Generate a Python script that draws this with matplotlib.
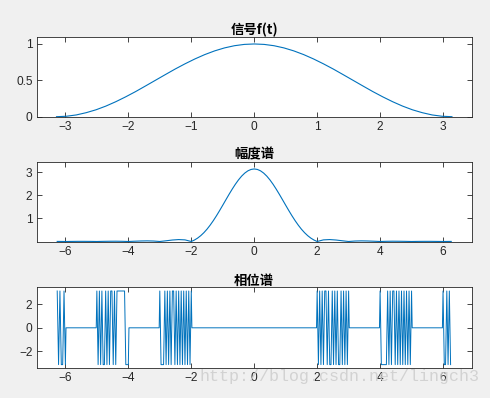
import numpy as np
import matplotlib.pyplot as plt

# DATOS -------------------------------------------------------------------

# signal f(t), read at 41 points over [-pi, pi]
t = np.linspace(-3.1416, 3.1416, 41)
f_t = [0.000, 0.006, 0.024, 0.055, 0.095, 0.146, 0.206, 0.273, 0.345, 0.422,
       0.500, 0.578, 0.655, 0.727, 0.794, 0.854, 0.905, 0.946, 0.976, 0.994,
       1.000,
       0.994, 0.976, 0.946, 0.905, 0.854, 0.794, 0.727, 0.655, 0.578, 0.500,
       0.422, 0.345, 0.273, 0.206, 0.146, 0.095, 0.055, 0.024, 0.006, 0.000]

# amplitude spectrum, right half (symmetric)
w_half = [0.0, 0.1, 0.2, 0.3, 0.4, 0.5, 0.6, 0.7, 0.8, 0.9, 1.0,
          1.1, 1.2, 1.3, 1.4, 1.5, 1.6, 1.7, 1.8, 1.9, 2.0,
          2.2, 2.4, 2.6, 2.8, 3.0, 3.2, 3.4, 3.6, 3.8, 4.0,
          4.2, 4.4, 4.6, 4.8, 5.0, 5.2, 5.4, 5.6, 5.8, 6.0, 6.2, 6.26]
mag_half = [3.142, 3.121, 3.061, 2.963, 2.831, 2.667, 2.477, 2.266, 2.041, 1.807, 1.571,
            1.338, 1.113, 0.902, 0.708, 0.533, 0.381, 0.252, 0.146, 0.062, 0.000,
            0.070, 0.083, 0.064, 0.031, 0.000, 0.020, 0.027, 0.022, 0.012, 0.000,
            0.008, 0.012, 0.010, 0.006, 0.000, 0.004, 0.006, 0.006, 0.003, 0.000, 0.003, 0.003]

# phase spectrum: 0 where F>0, +/-pi (noisy sign) where F<0
phase_bands = [(-6.26, -6.0), (-5.0, -4.0), (-3.0, -2.0), (2.0, 3.0), (4.0, 5.0), (6.0, 6.24)]
phase_signs = [
    [1, -1, 1, -1, -1, 1, -1],
    [1, -1, 1, -1, 1, -1, -1, 1, -1, 1, -1, 1, 1, -1, 1, -1, 1, 1, 1, 1, 1, 1, 1, -1, -1, -1],
    [1, -1, -1, -1, 1, -1, 1, -1, 1, -1, 1, 1, -1, 1, -1, 1, -1, 1, -1, 1, -1, 1, -1, 1, -1, 1],
    [1, -1, 1, -1, 1, -1, 1, 1, -1, 1, -1, -1, 1, -1, 1, -1, 1, -1, -1, 1, -1, 1, -1, 1, -1, 1],
    [1, -1, -1, -1, -1, -1, 1, -1, 1, -1, 1, 1, -1, 1, -1, 1, -1, 1, -1, 1, -1, 1, -1, 1, -1, 1],
    [1, -1, -1, 1, -1, 1, -1],
]

# SERIES ------------------------------------------------------------------

w_mag = np.concatenate([-np.array(w_half[:0:-1]), w_half])
mag = np.concatenate([mag_half[:0:-1], mag_half])

w_ph, ph = [], []
for (a, b), s in zip(phase_bands, phase_signs):
    if a > -6.2:
        w_ph.append(a - 0.02); ph.append(0.0)
    w_ph.extend(np.linspace(a, b, len(s)))
    ph.extend(np.array(s) * np.pi)
    if b < 6.2:
        w_ph.append(b + 0.02); ph.append(0.0)

# GRÁFICO -----------------------------------------------------------------

plt.rcParams['font.family'] = ['Liberation Sans', 'Noto Sans CJK SC', 'DejaVu Sans']
plt.rcParams['font.size'] = 8.6
azul = '#0072BD'
gris = '#262626'
cjk = ['Noto Sans CJK SC', 'DejaVu Sans']

fig = plt.figure(figsize=(4.9, 3.98), dpi=100, facecolor='#f0f0f0')
ax1 = fig.add_axes([0.0749, 0.7068, 0.8878, 0.2010])
ax2 = fig.add_axes([0.0749, 0.3912, 0.8878, 0.2025])
ax3 = fig.add_axes([0.0749, 0.0746, 0.8878, 0.2035])

ax1.plot(t, f_t, color=azul, lw=0.8)
ax1.set_xlim(-1.1 * np.pi, 1.1 * np.pi)
ax1.set_ylim(0, 1.1)
ax1.set_xticks(range(-3, 4))
ax1.set_yticks([0, 0.5, 1])
ax1.set_yticklabels(['0', '0.5', '1'])
ax1.set_title('信号f(t)', fontsize=9.6, fontweight='bold', pad=2, family=cjk)

ax2.plot(w_mag, mag, color=azul, lw=0.8)
ax2.set_xlim(-2.2 * np.pi, 2.2 * np.pi)
ax2.set_ylim(-0.035, 1.1 * np.pi)
ax2.set_xticks(range(-6, 7, 2))
ax2.set_yticks([1, 2, 3])
ax2.set_title('幅度谱', fontsize=9.6, fontweight='bold', pad=2, family=cjk)

ax3.plot(w_ph, ph, color=azul, lw=0.7)
ax3.set_xlim(-2.2 * np.pi, 2.2 * np.pi)
ax3.set_ylim(-1.1 * np.pi, 1.1 * np.pi)
ax3.set_xticks(range(-6, 7, 2))
ax3.set_yticks([-2, 0, 2])
ax3.set_title('相位谱', fontsize=9.6, fontweight='bold', pad=2, family=cjk)

for ax in (ax1, ax2, ax3):
    ax.set_facecolor('white')
    ax.tick_params(direction='in', length=3.5, width=0.6, colors=gris,
                   top=True, right=True, pad=3)
    for sp in ax.spines.values():
        sp.set_color(gris)
        sp.set_linewidth(0.6)

fig.text(0.408, 0.053, 'http://blog.csdn.net/lingch3', fontsize=12,
         family='Liberation Mono', color='#cfcfcf', alpha=0.9, va='center', zorder=10)

fig.savefig('out.png', dpi=100, facecolor=fig.get_facecolor())
